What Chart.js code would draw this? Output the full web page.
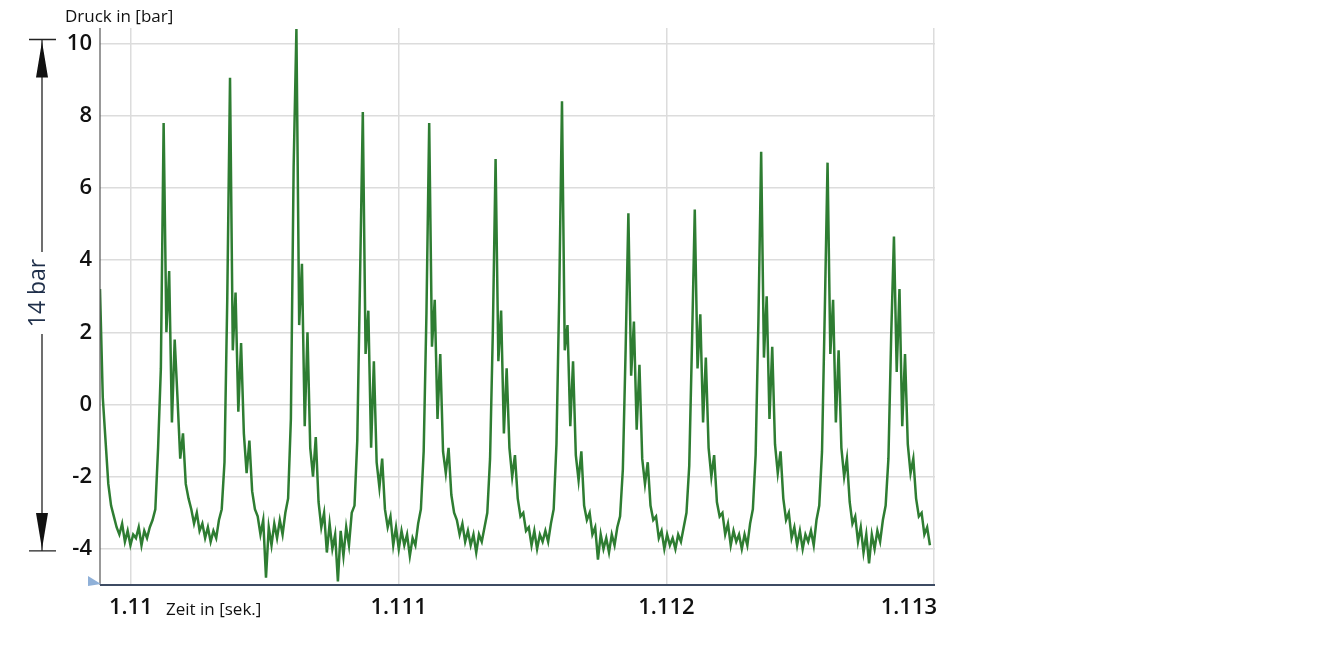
<!DOCTYPE html>
<html><head><meta charset="utf-8">
<script src="https://cdn.jsdelivr.net/npm/chart.js@4"></script>
<style>html,body{margin:0;padding:0;background:#fff}#w{width:1323px;height:652px}</style>
</head><body><div id="w"><canvas id="c"></canvas></div>
<script>
const tStart = 1.109885;
const tStep = 0.00001033;
const xTicks = [1.11, 1.111, 1.112, 1.113];
const xTickLabels = ['1.11', '1.111', '1.112', '1.113'];
const yTicks = [-4, -2, 0, 2, 4, 6, 8, 10];
const lead = [3.2,0.2,-1.0,-2.2,-2.8,-3.1,-3.4,-3.6,-3.3,-3.8,-3.5,-3.9,-3.6,-3.7,-3.4,-3.9,-3.5,-3.7,-3.4,-3.2,-2.9];
const cycle1 = [-1.2,1.0,7.8,2.0,3.7,-0.5,1.8,0.2,-1.5,-0.8,-2.2,-2.6,-2.9,-3.3,-3.0,-3.5,-3.3,-3.7,-3.4,-3.8,-3.5,-3.7,-3.2,-2.9];
const cycle2 = [-1.6,2.9,9.05,1.5,3.1,-0.2,1.7,-0.8,-1.9,-1.0,-2.4,-2.9,-3.1,-3.6,-3.2,-4.8,-3.4,-3.9,-3.3,-3.7,-3.2,-3.6,-3.0,-2.6];
const cycle3 = [-0.4,6.6,10.4,2.2,3.9,-0.6,2.0,-1.2,-2.0,-0.9,-2.7,-3.4,-3.0,-4.1,-3.3,-4.0,-3.6,-4.9,-3.5,-4.2,-3.4,-3.9,-3.0,-2.8];
const cycle4 = [-1.0,3.5,8.1,1.4,2.6,-1.2,1.2,-1.6,-2.3,-1.5,-2.9,-3.4,-3.1,-3.9,-3.4,-4.0,-3.5,-3.9,-3.6,-4.2,-3.7,-3.9,-3.3,-2.9];
const cycle5 = [-1.3,2.5,7.8,1.6,2.9,-0.4,1.4,-1.3,-1.9,-1.2,-2.5,-3.0,-3.2,-3.6,-3.3,-3.8,-3.5,-3.9,-3.6,-4.1,-3.6,-3.8,-3.4,-3.0];
const cycle6 = [-1.5,2.0,6.8,1.2,2.6,-0.8,1.0,-1.2,-2.0,-1.4,-2.6,-3.1,-3.0,-3.5,-3.4,-3.9,-3.5,-4.0,-3.6,-3.8,-3.5,-3.8,-3.3,-2.9];
const cycle7 = [-1.1,3.0,8.4,1.5,2.2,-0.6,1.2,-1.4,-2.1,-1.3,-2.8,-3.2,-3.0,-3.6,-3.4,-4.3,-3.6,-4.0,-3.7,-4.1,-3.6,-3.9,-3.4,-3.1];
const cycle8 = [-1.8,1.5,5.3,0.8,2.3,-0.7,1.1,-1.5,-2.2,-1.6,-2.8,-3.2,-3.1,-3.7,-3.5,-4.0,-3.6,-3.9,-3.7,-4.0,-3.6,-3.8,-3.4,-3.0];
const cycle9 = [-1.7,1.7,5.4,1.0,2.5,-0.5,1.3,-1.2,-2.0,-1.4,-2.7,-3.1,-3.0,-3.6,-3.3,-3.9,-3.5,-3.8,-3.6,-4.0,-3.6,-3.9,-3.3,-2.9];
const cycle10 = [-1.4,2.3,7.0,1.3,3.0,-0.4,1.6,-1.1,-1.9,-1.3,-2.6,-3.2,-3.0,-3.7,-3.4,-3.9,-3.5,-4.0,-3.6,-3.8,-3.5,-3.9,-3.2,-2.8];
const cycle11 = [-1.3,2.6,6.7,1.4,2.9,-0.5,1.5,-1.2,-2.0,-1.5,-2.7,-3.3,-3.1,-3.8,-3.4,-4.1,-3.6,-4.4,-3.6,-4.0,-3.5,-3.8,-3.2,-2.8];
const cycle12 = [-1.5,1.9,4.65,0.9,3.2,-0.6,1.4,-1.1,-1.9,-1.5,-2.6,-3.1,-3.0,-3.6,-3.4,-3.9];
const series = [].concat(lead,cycle1,cycle2,cycle3,cycle4,cycle5,cycle6,cycle7,cycle8,cycle9,cycle10,cycle11,cycle12);
const points = series.map((v,i)=>({x:tStart+i*tStep,y:v}));

const deco = {
  id:'deco',
  afterDraw(ch){
    const c=ch.ctx, y=ch.scales.y, x=ch.scales.x, a=ch.chartArea;
    c.save();
    c.fillStyle='#111';c.font='17px "Open Sans"';c.textBaseline='middle';c.textAlign='left';
    c.fillText('Druck in [bar]',65,17);
    c.fillText('Zeit in [sek.]',166,610);
    // x tick labels
    c.font='600 22px "Open Sans"';c.fillStyle='#111';
    xTicks.forEach((v,i)=>{
      const px=x.getPixelForValue(v), w=c.measureText(xTickLabels[i]).width;
      let lx=px-w/2; if(lx+w>ch.width-386) lx=ch.width-386-w;
      c.fillText(xTickLabels[i],lx,608);
    });
    // axis lines
    c.strokeStyle='#555';c.lineWidth=1.2;c.beginPath();c.moveTo(a.left,28);c.lineTo(a.left,a.bottom);c.stroke();
    c.strokeStyle='#3d4b63';c.lineWidth=2;c.beginPath();c.moveTo(a.left,a.bottom);c.lineTo(a.right,a.bottom);c.stroke();
    // blue triangle
    c.fillStyle='#8fb0d8';c.beginPath();c.moveTo(88,576);c.lineTo(101,584);c.lineTo(88,586);c.closePath();c.fill();
    // dimension
    const yt=y.getPixelForValue(10)-4, yb=y.getPixelForValue(-4)+2, xm=42;
    c.strokeStyle='#222';c.lineWidth=1.3;
    c.beginPath();c.moveTo(29,yt);c.lineTo(56,yt);c.moveTo(29,yb);c.lineTo(56,yb);
    c.moveTo(xm,yt);c.lineTo(xm,252);c.moveTo(xm,334);c.lineTo(xm,yb);c.stroke();
    c.fillStyle='#111';
    c.beginPath();c.moveTo(xm,yt+2);c.lineTo(xm-6,yt+38);c.lineTo(xm+6,yt+38);c.closePath();c.fill();
    c.beginPath();c.moveTo(xm,yb-2);c.lineTo(xm-6,yb-38);c.lineTo(xm+6,yb-38);c.closePath();c.fill();
    c.translate(38,293);c.rotate(-Math.PI/2);c.textAlign='center';c.fillStyle='#1f2f4a';c.font='23px "Open Sans"';
    c.fillText('14 bar',0,0);
    c.restore();
  }
};

new Chart(document.getElementById('c'),{
  type:'line',
  data:{datasets:[{data:points,borderColor:'#2e7d32',borderWidth:2.5,pointRadius:0,tension:0}]},
  options:{
    responsive:true,maintainAspectRatio:false,animation:false,
    layout:{padding:{left:0,right:388,top:28,bottom:0}},
    plugins:{legend:{display:false},tooltip:{enabled:false}},
    scales:{
      x:{type:'linear',min:1.109885,max:1.113003,
        afterBuildTicks:s=>{s.ticks=xTicks.map(v=>({value:v}));},
        afterFit:s=>{s.height=67;},
        border:{display:false},
        grid:{color:'#dcdcdc',lineWidth:1.5,drawTicks:false},
        ticks:{display:true,color:'rgba(0,0,0,0)',font:{size:21},callback:()=>''}},
      y:{min:-5,max:10.43,
        afterBuildTicks:s=>{s.ticks=yTicks.map(v=>({value:v}));},
        afterFit:s=>{s.width=100;},
        border:{display:false},
        grid:{color:'#dcdcdc',lineWidth:1.5,drawTicks:false},
        ticks:{color:'#111',font:{size:22,weight:'600',family:'"Open Sans"'},padding:8}}
    }
  },
  plugins:[deco]
});
</script></body></html>
